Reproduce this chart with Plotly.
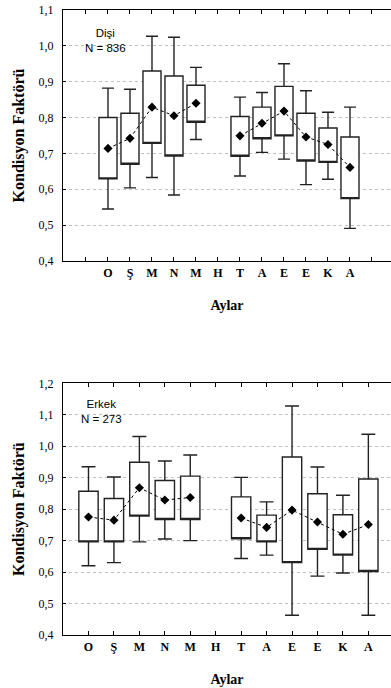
import plotly.graph_objects as go

months = ["O", "Ş", "M", "N", "M", "H", "T", "A", "E", "E", "K", "A"]

# Dişi (female)
f_whisker_hi = [0.882, 0.879, 1.027, 1.024, 0.940, None, 0.857, 0.870, 0.950, 0.875, 0.815, 0.829]
f_box_hi     = [0.800, 0.812, 0.930, 0.916, 0.890, None, 0.803, 0.829, 0.887, 0.812, 0.771, 0.746]
f_mean       = [0.714, 0.742, 0.829, 0.805, 0.840, None, 0.749, 0.784, 0.818, 0.746, 0.725, 0.661]
f_box_lo     = [0.629, 0.670, 0.728, 0.693, 0.787, None, 0.692, 0.741, 0.749, 0.679, 0.675, 0.574]
f_whisker_lo = [0.545, 0.604, 0.633, 0.584, 0.739, None, 0.637, 0.703, 0.684, 0.613, 0.628, 0.491]

# Erkek (male)
m_whisker_hi = [0.935, 0.902, 1.031, 0.953, 0.972, None, 0.901, 0.823, 1.128, 0.934, 0.844, 1.038]
m_box_hi     = [0.857, 0.834, 0.949, 0.891, 0.905, None, 0.839, 0.781, 0.966, 0.849, 0.782, 0.896]
m_mean       = [0.775, 0.765, 0.868, 0.829, 0.837, None, 0.772, 0.742, 0.797, 0.759, 0.720, 0.751]
m_box_lo     = [0.696, 0.696, 0.778, 0.767, 0.767, None, 0.706, 0.696, 0.630, 0.672, 0.654, 0.602]
m_whisker_lo = [0.620, 0.630, 0.696, 0.705, 0.700, None, 0.643, 0.654, 0.463, 0.587, 0.597, 0.463]

positions = list(range(1, len(months) + 1))

SERIF = "Liberation Serif"
SANS = "Liberation Sans"

fig = go.Figure()


def add_panel(xa, ya, whi, bhi, mean, blo, wlo, bw, ww):
    idx = [i for i, v in enumerate(bhi) if v is not None]
    fig.add_trace(go.Box(
        x=[positions[i] for i in idx],
        q1=[blo[i] for i in idx],
        median=[blo[i] for i in idx],
        q3=[bhi[i] for i in idx],
        lowerfence=[wlo[i] for i in idx],
        upperfence=[whi[i] for i in idx],
        width=bw, whiskerwidth=ww,
        fillcolor="white",
        line=dict(color="#222222", width=1.4),
        boxpoints=False,
        xaxis=xa, yaxis=ya, showlegend=False,
    ))
    fig.add_trace(go.Scatter(
        x=positions, y=mean, mode="lines+markers",
        line=dict(color="black", width=1, dash="dot"),
        marker=dict(symbol="diamond", size=7, color="black"),
        connectgaps=False, xaxis=xa, yaxis=ya, showlegend=False,
    ))


add_panel("x", "y", f_whisker_hi, f_box_hi, f_mean, f_box_lo, f_whisker_lo, 0.82, 0.67)
add_panel("x2", "y2", m_whisker_hi, m_box_hi, m_mean, m_box_lo, m_whisker_lo, 0.76, 0.72)

xcommon = dict(
    automargin=False,
    showline=True, linecolor="black", linewidth=1.3, mirror="ticks",
    ticks="inside", ticklen=4, tickcolor="black", tickwidth=1,
    showgrid=False, zeroline=False,
    tickfont=dict(family=SERIF, size=12, color="black", weight="bold"),
    title=dict(text="Aylar", font=dict(family=SERIF, size=14, color="black", weight="bold"), standoff=21),
)
ycommon = dict(
    automargin=False,
    showline=True, linecolor="black", linewidth=1.3, mirror=False,
    ticks="inside", ticklen=3, tickcolor="black", tickwidth=1,
    showgrid=True, gridcolor="#c0c0c0", griddash="dot", gridwidth=1,
    zeroline=False, dtick=0.1, tickformat=".1f",
    tickfont=dict(family=SERIF, size=12, color="black"),
    ticklabelstandoff=6,
    title=dict(text="Kondisyon Faktörü", font=dict(family=SERIF, size=16, color="black", weight="bold"), standoff=9),
)
yright = dict(
    automargin=False, side="right", showline=False, showgrid=False, zeroline=False,
    ticks="inside", ticklen=3, tickcolor="black", tickwidth=1, showticklabels=False,
    dtick=0.1,
)

fig.update_layout(
    width=391, height=688,
    margin=dict(l=63, r=0, t=10, b=53, autoexpand=False),
    paper_bgcolor="white", plot_bgcolor="white",
    separators=",.",
    showlegend=False,
    xaxis=dict(xcommon, domain=[0, 1], anchor="y", range=[-1.045, 13.864],
               tickvals=list(range(0, 14)), ticktext=[""] + months + [""]),
    yaxis=dict(ycommon, domain=[0.5984, 1], anchor="x", range=[0.4, 1.1]),
    xaxis2=dict(xcommon, domain=[0, 1], anchor="y2", range=[-0.002, 12.89],
                tickvals=positions, ticktext=months),
    yaxis2=dict(ycommon, domain=[0, 0.4027], anchor="x2", range=[0.4, 1.2]),
    yaxis3=dict(yright, overlaying="y", anchor="x", range=[0.4, 1.1]),
    yaxis4=dict(yright, overlaying="y2", anchor="x2", range=[0.4, 1.2]),
    annotations=[
        dict(text="Dişi<br>N = 836", x=0.9, y=1.016, xref="x", yref="y",
             showarrow=False, align="center", font=dict(family=SANS, size=11.5, color="black")),
        dict(text="Erkek<br>N = 273", x=1.52, y=1.110, xref="x2", yref="y2",
             showarrow=False, align="center", font=dict(family=SANS, size=11.5, color="black")),
    ],
)

fig.write_html(
    "out.html",
    config={"displayModeBar": False},
    post_script="document.body.style.margin='0';document.body.style.overflow='hidden';",
)
